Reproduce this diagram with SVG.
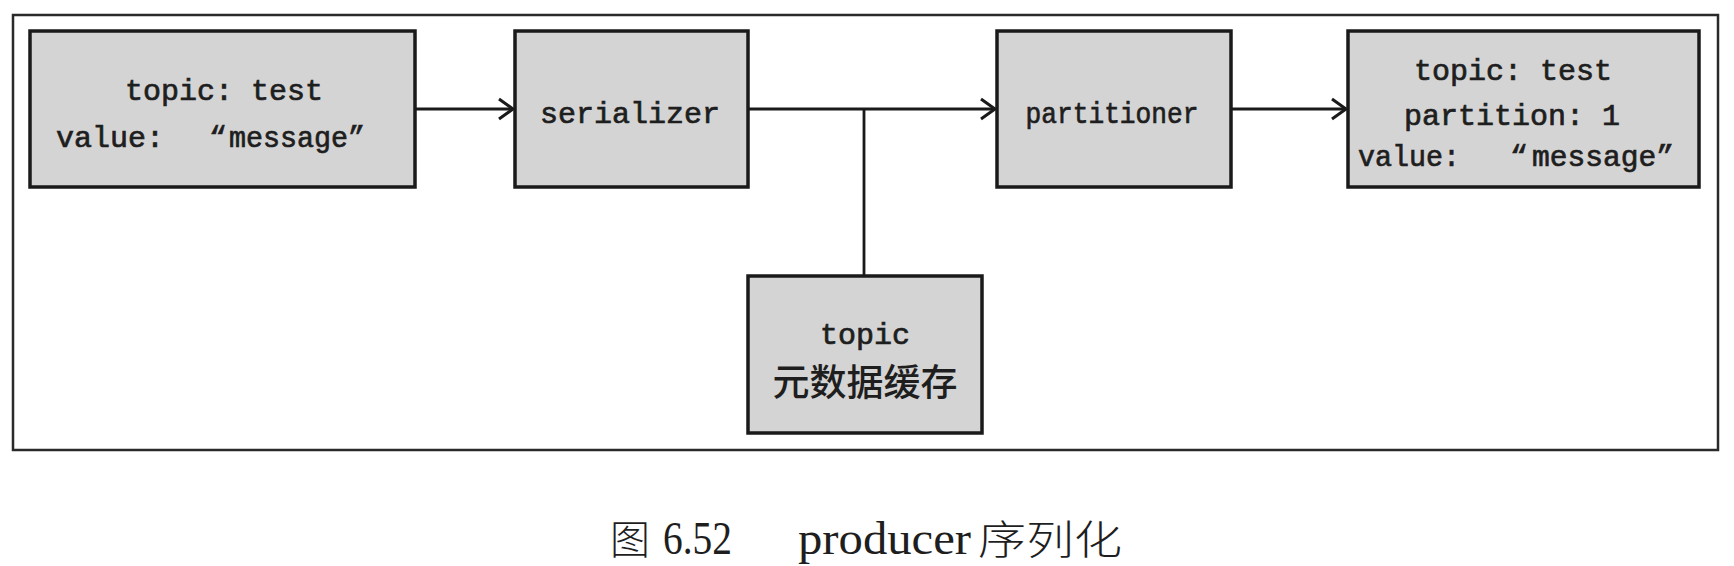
<svg xmlns="http://www.w3.org/2000/svg" width="1734" height="566" viewBox="0 0 1734 566">
<style>
.frame{fill:none;stroke:#2a2a2a;stroke-width:2.5}
.box{fill:#d4d4d4;stroke:#1a1a1a;stroke-width:3.5}
.t{font-family:"Liberation Mono","DejaVu Sans Mono",monospace;font-size:30px;fill:#1e1e1e;stroke:#1e1e1e;stroke-width:0.7;text-anchor:middle}
.ts{text-anchor:start}
.cjk{font-family:"Noto Sans CJK SC",sans-serif;font-size:37px;font-weight:500;fill:#1e1e1e;text-anchor:middle}
.line{fill:none;stroke:#1a1a1a;stroke-width:2.8}
.cap{font-family:"Liberation Serif","Noto Sans CJK SC",serif;font-size:46px;fill:#1e1e1e}
.capc{font-family:"Noto Sans CJK SC",serif;font-size:40px;fill:#1e1e1e;font-weight:300}
</style>
<defs>
<marker id="arr" markerWidth="20" markerHeight="24" refX="17" refY="12" orient="auto" markerUnits="userSpaceOnUse">
<path d="M3,2 L17,12 L3,22" fill="none" stroke="#1a1a1a" stroke-width="3"/>
</marker>
</defs>
<rect class="frame" x="13" y="15" width="1705" height="435"/>
<g id="connectors">
<line class="line" x1="415" y1="109" x2="513" y2="109" marker-end="url(#arr)"/>
<line class="line" x1="748" y1="109" x2="995" y2="109" marker-end="url(#arr)"/>
<line class="line" x1="864" y1="109" x2="864" y2="276"/>
<line class="line" x1="1231" y1="109" x2="1346" y2="109" marker-end="url(#arr)"/>
</g>
<g id="node-message">
<rect class="box" x="30" y="31" width="385" height="156"/>
<text class="t" x="224" y="100">topic: test</text>
<text class="t ts" y="147"><tspan x="56">value:</tspan><tspan x="209">“</tspan><tspan x="229" textLength="136" lengthAdjust="spacingAndGlyphs">message”</tspan></text>
</g>
<g id="node-serializer">
<rect class="box" x="515" y="31" width="233" height="156"/>
<text class="t" x="630" y="123">serializer</text>
</g>
<g id="node-partitioner">
<rect class="box" x="997" y="31" width="234" height="156"/>
<text class="t" x="1112" y="123" textLength="173" lengthAdjust="spacingAndGlyphs">partitioner</text>
</g>
<g id="node-result">
<rect class="box" x="1348" y="31" width="351" height="156"/>
<text class="t" x="1513" y="80">topic: test</text>
<text class="t" x="1512" y="125">partition: 1</text>
<text class="t ts" y="166"><tspan x="1358" textLength="102" lengthAdjust="spacingAndGlyphs">value:</tspan><tspan x="1510">“</tspan><tspan x="1532" textLength="142" lengthAdjust="spacingAndGlyphs">message”</tspan></text>
</g>
<g id="node-cache">
<rect class="box" x="748" y="276" width="234" height="157"/>
<text class="t" x="865" y="344">topic</text>
<text class="cjk" x="865" y="396">元数据缓存</text>
</g>
<g id="caption">
<text class="capc" x="610" y="554">图</text>
<text class="cap" x="663" y="554" textLength="69" lengthAdjust="spacingAndGlyphs">6.52</text>
<text class="cap" x="798" y="554" textLength="173" lengthAdjust="spacingAndGlyphs">producer</text>
<text class="capc" x="978" y="554" textLength="144" lengthAdjust="spacingAndGlyphs">序列化</text>
</g>
</svg>
